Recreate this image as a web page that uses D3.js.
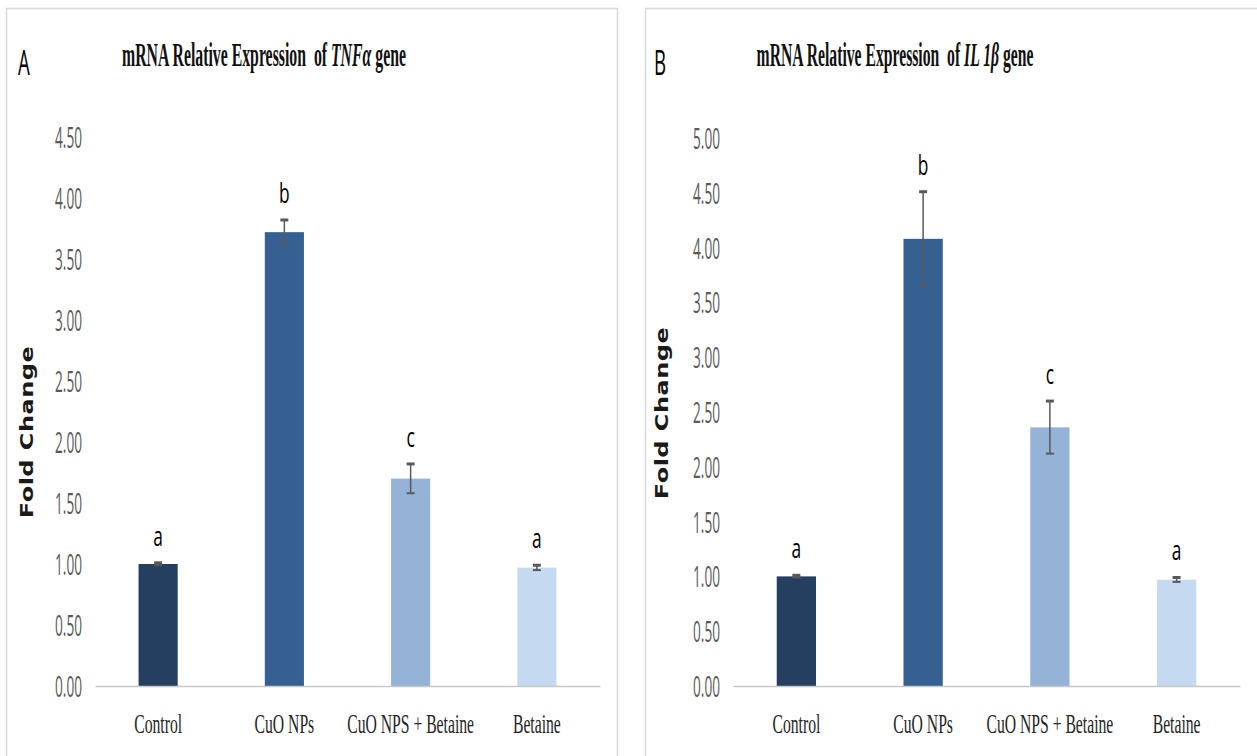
<!DOCTYPE html>
<html>
<head>
<meta charset="utf-8">
<script src="https://cdn.jsdelivr.net/npm/d3@7"></script>
<style>
  body { margin: 0; background: #fff; }
  svg { display: block; }
</style>
</head>
<body>
<div id="chart"></div>
<script>
// groups shared by both panels
const groups = ['Control', 'CuO NPs', 'CuO NPS + Betaine', 'Betaine'];
const barColors = ['#243f60', '#366092', '#95b3d7', '#c5d9f1'];

// panel A - TNFa
const tnfMeans = [1.00, 3.72, 1.70, 0.97];
const tnfErrors = [0.01, 0.10, 0.12, 0.02];
const tnfLetters = ['a', 'b', 'c', 'a'];
const tnfTicks = [0, 0.5, 1, 1.5, 2, 2.5, 3, 3.5, 4, 4.5];

// panel B - IL 1b
const ilMeans = [1.00, 4.08, 2.36, 0.97];
const ilErrors = [0.01, 0.43, 0.24, 0.02];
const ilLetters = ['a', 'b', 'c', 'a'];
const ilTicks = [0, 0.5, 1, 1.5, 2, 2.5, 3, 3.5, 4, 4.5, 5];

const width = 1257, height = 756;

const svg = d3.select('#chart')
  .append('svg')
  .attr('width', width)
  .attr('height', height);

// squeezed text helper (the figure is horizontally compressed)
function label(g, x, y, txt, opts) {
  const t = g.append('text')
    .attr('transform', `translate(${x},${y}) scale(${opts.sx || 1},1)`)
    .attr('text-anchor', opts.anchor || 'middle')
    .attr('font-family', opts.family || '"Open Sans", sans-serif')
    .attr('font-size', opts.size || 20)
    .attr('font-weight', opts.weight || 'normal')
    .attr('fill', opts.fill || '#000')
    .text(txt);
  return t;
}

function drawPanel(p) {
  const g = svg.append('g');

  g.append('rect')
    .attr('x', p.frame[0] + 0.5)
    .attr('y', 8.5)
    .attr('width', p.frame[1] - p.frame[0])
    .attr('height', 800)
    .attr('fill', '#fff')
    .attr('stroke', '#d9d9d9')
    .attr('stroke-width', 1.5);

  const x = d3.scaleBand()
    .domain(groups)
    .range([p.left, p.right])
    .paddingInner(0.69)
    .paddingOuter(0.345);

  const y = d3.scaleLinear()
    .domain([0, p.ticks[p.ticks.length - 1]])
    .range([686, p.top]);

  const data = groups.map((name, i) => ({
    name, mean: p.means[i], err: p.errors[i], letter: p.letters[i], color: barColors[i]
  }));

  // bars
  g.append('g')
    .selectAll('rect')
    .data(data)
    .join('rect')
    .attr('x', d => x(d.name))
    .attr('y', d => y(d.mean))
    .attr('width', x.bandwidth())
    .attr('height', d => y(0) - y(d.mean))
    .attr('fill', d => d.color);

  // y axis (labels only)
  const yAxis = g.append('g')
    .attr('transform', `translate(${p.left},0)`)
    .call(d3.axisLeft(y).tickValues(p.ticks).tickSize(0).tickFormat(d3.format('.2f')));
  yAxis.select('.domain').remove();
  yAxis.selectAll('text')
    .attr('x', 0)
    .attr('dy', '0.36em')
    .attr('transform', 'translate(-13,0) scale(0.47,1)')
    .attr('font-family', '"Open Sans", sans-serif')
    .attr('font-size', 29)
    .attr('fill', '#595959');

  // x axis
  const xAxis = g.append('g')
    .attr('transform', `translate(0,${y(0)})`)
    .call(d3.axisBottom(x).tickSize(0).tickSizeOuter(0));
  xAxis.select('.domain')
    .attr('stroke', '#c8c8c8')
    .attr('stroke-width', 1.5);
  xAxis.selectAll('text')
    .attr('y', 0)
    .attr('dy', 0)
    .attr('transform', 'translate(0,47) scale(0.56,1)')
    .attr('font-family', '"Liberation Serif", serif')
    .attr('font-size', 28)
    .attr('fill', '#262626');

  // error bars
  const eb = g.append('g')
    .attr('stroke', '#595959')
    .attr('stroke-width', 1.5);
  const cx = d => x(d.name) + x.bandwidth() / 2;
  eb.selectAll('line.v')
    .data(data)
    .join('line')
    .attr('class', 'v')
    .attr('x1', cx).attr('x2', cx)
    .attr('y1', d => y(d.mean - d.err))
    .attr('y2', d => y(d.mean + d.err));
  eb.selectAll('line.top')
    .data(data)
    .join('line')
    .attr('class', 'top')
    .attr('x1', d => cx(d) - 4).attr('x2', d => cx(d) + 4)
    .attr('y1', d => y(d.mean + d.err))
    .attr('y2', d => y(d.mean + d.err))
    .attr('stroke-width', 3);
  eb.selectAll('line.bot')
    .data(data)
    .join('line')
    .attr('class', 'bot')
    .attr('x1', d => cx(d) - 4).attr('x2', d => cx(d) + 4)
    .attr('y1', d => y(d.mean - d.err))
    .attr('y2', d => y(d.mean - d.err))
    .attr('stroke-width', 2);

  // significance letters
  data.forEach(d => {
    label(g, cx(d), y(d.mean + d.err) - 17, d.letter, { sx: 0.62, size: 28 });
  });

  // panel letter
  label(g, p.panelX, 75, p.panel, { sx: 0.55, size: 34 });

  // title, fitted to its width in the figure
  const title = g.append('text')
    .attr('text-anchor', 'middle')
    .attr('font-family', '"Liberation Serif", serif')
    .attr('font-weight', 'bold')
    .attr('font-size', 33)
    .attr('fill', '#111');
  title.append('tspan').text('mRNA Relative Expression\u00a0\u00a0of ');
  title.append('tspan').attr('font-style', 'italic').text(p.gene);
  title.append('tspan').text(' gene');
  const w = title.node().getComputedTextLength();
  title.attr('transform', `translate(${p.titleX},66) scale(${p.titleW / w},1)`);

  // y axis title
  g.append('text')
    .attr('transform', `translate(${p.yLabelX},${p.yLabelY}) rotate(-90) scale(1,0.7)`)
    .attr('text-anchor', 'middle')
    .attr('font-family', '"DejaVu Sans", sans-serif')
    .attr('font-weight', 'bold')
    .attr('font-size', 24)
    .attr('letter-spacing', 0.5)
    .attr('fill', '#1a1a1a')
    .text('Fold Change');
}

drawPanel({
  panel: 'A', gene: 'TNF\u03b1', frame: [6, 617],
  left: 95, right: 600, top: 137,
  means: tnfMeans, errors: tnfErrors, letters: tnfLetters, ticks: tnfTicks,
  panelX: 24, titleX: 264, titleW: 284, yLabelX: 33, yLabelY: 432
});

drawPanel({
  panel: 'B', gene: 'IL 1\u03b2', frame: [645, 1270],
  left: 733, right: 1240, top: 138,
  means: ilMeans, errors: ilErrors, letters: ilLetters, ticks: ilTicks,
  panelX: 660, titleX: 895, titleW: 277, yLabelX: 668, yLabelY: 413
});
</script>
</body>
</html>
